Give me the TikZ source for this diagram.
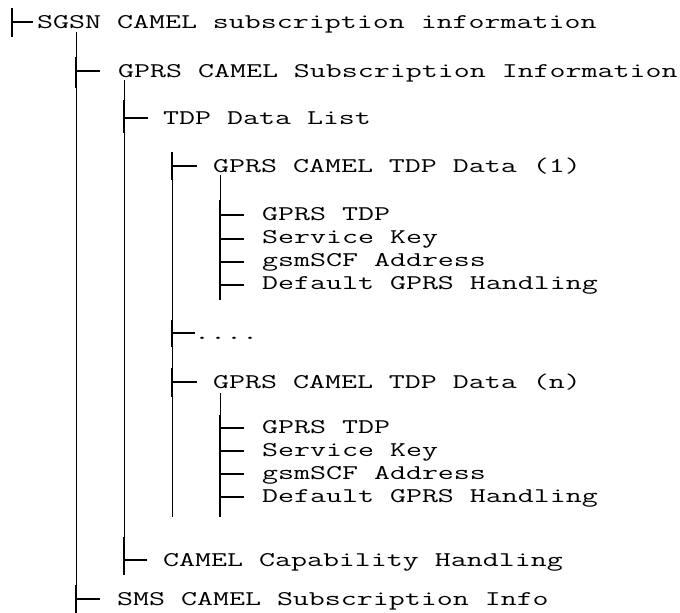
\documentclass[tikz,border=0pt]{standalone}
\usepackage{fontspec}
\setmonofont{Latin Modern Mono}[FakeStretch=1.485]
\begin{document}
\begin{tikzpicture}[x=1pt,y=-1pt,
  txt/.style={anchor=base west, inner sep=0pt, font=\ttfamily\fontsize{20.9}{24}\selectfont},
  trunk/.style={line width=1pt},
  tickmark/.style={line width=2pt},
  dashln/.style={line width=2pt}]
\useasboundingbox (0,0) rectangle (680,613);
% text nodes
\node[txt] (n1) at (37,28) {SGSN CAMEL subscription information};
\node[txt] (n2) at (118,77) {GPRS CAMEL Subscription Information};
\node[txt] (n3) at (163,124) {TDP Data List};
\node[txt] (n4) at (213,172) {GPRS CAMEL TDP Data (1)};
\node[txt] (n5) at (262,220) {GPRS TDP};
\node[txt] (n6) at (262,243.3) {Service Key};
\node[txt] (n7) at (262,266.6) {gsmSCF Address};
\node[txt] (n8) at (262,289.9) {Default GPRS Handling};
\node[txt] (n9) at (194,339) {....};
\node[txt] (n10) at (213,388) {GPRS CAMEL TDP Data (n)};
\node[txt] (n11) at (262,433) {GPRS TDP};
\node[txt] (n12) at (262,456.3) {Service Key};
\node[txt] (n13) at (262,479.6) {gsmSCF Address};
\node[txt] (n14) at (262,502.9) {Default GPRS Handling};
\node[txt] (n15) at (163,566) {CAMEL Capability Handling};
\node[txt] (n16) at (117,605) {SMS CAMEL Subscription Info};
% trunk coordinates
\coordinate (a0) at (76,32);   \coordinate (a1) at (76,613);
\coordinate (b0) at (124,80);  \coordinate (b1) at (124,575);
\coordinate (c0) at (172,152); \coordinate (c1) at (172,517);
\coordinate (d0) at (220,175); \coordinate (d1) at (220,300);
\coordinate (e0) at (220,393); \coordinate (e1) at (220,517);
\draw[trunk] (a0) -- (a1);
\draw[trunk] (b0) -- (b1);
\draw[trunk] (c0) -- (c1);
\draw[trunk] (d0) -- (d1);
\draw[trunk] (e0) -- (e1);
% ticks
\draw[tickmark] (12,8) -- (12,37);
\draw[tickmark] (76,57) -- (76,88);
\draw[tickmark] (124,100) -- (124,133);
\draw[tickmark] (172,152) -- (172,180);
\draw[tickmark] (220,200) -- (220,300);
\draw[tickmark] (172,320) -- (172,347);
\draw[tickmark] (172,368) -- (172,397);
\draw[tickmark] (220,415) -- (220,517);
\draw[tickmark] (124,537) -- (124,575);
\draw[tickmark] (76,585) -- (76,613);
% dashes
\draw[dashln] (12,22) -- (33,22);
\draw[dashln] (76,71) -- (100,71);
\draw[dashln] (124,118) -- (148,118);
\draw[dashln] (172,166) -- (197,166);
\foreach \yy in {215,239,262,285,428,451,474,497} {\draw[dashln] (220,\yy) -- (244,\yy);}
\draw[dashln] (172,333) -- (195,333);
\draw[dashln] (172,382) -- (197,382);
\draw[dashln] (124,560) -- (147,560);
\draw[dashln] (76,599) -- (100,599);
\end{tikzpicture}
\end{document}
